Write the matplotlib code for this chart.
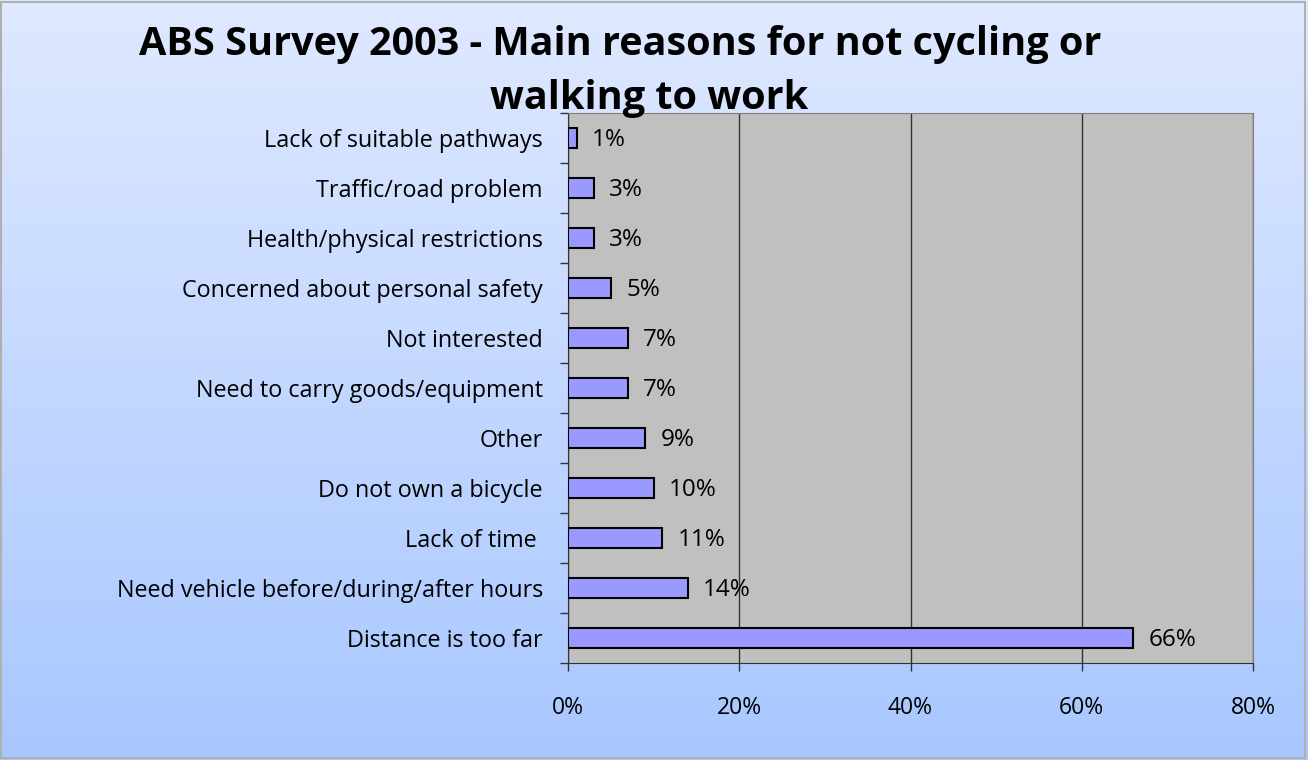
import matplotlib
matplotlib.use("Agg")
import matplotlib.pyplot as plt
import numpy as np
from matplotlib.ticker import FixedLocator

categories = ["Distance is too far", "Need vehicle before/during/after hours", "Lack of time ",
              "Do not own a bicycle", "Other", "Need to carry goods/equipment", "Not interested",
              "Concerned about personal safety", "Health/physical restrictions",
              "Traffic/road problem", "Lack of suitable pathways"]
values = [66, 14, 11, 10, 9, 7, 7, 5, 3, 3, 1]
x_ticks = [0, 20, 40, 60, 80]
x_tick_labels = ["0%", "20%", "40%", "60%", "80%"]
title_line1 = "ABS Survey 2003 - Main reasons for not cycling or"
title_line2 = "walking to work"

plt.rcParams['font.family'] = ['Open Sans', 'DejaVu Sans']

W, H = 1308, 760
fig = plt.figure(figsize=(W / 100, H / 100), dpi=100)

# gradient background
bg = fig.add_axes([0, 0, 1, 1], zorder=-10)
top = np.array([0.875, 0.914, 1.0])
bot = np.array([0.66, 0.78, 1.0])
t = np.linspace(0, 1, 256)[:, None]
grad = top[None, :] * (1 - t) + bot[None, :] * t
bg.imshow(grad[:, None, :].repeat(2, axis=1), aspect='auto', extent=[0, 1, 0, 1])
bg.set_xlim(0, 1); bg.set_ylim(0, 1)
bg.axis('off')
bg.add_patch(plt.Rectangle((0.001, 0.002), 0.997, 0.996, fill=False, ec='#b0b0b0', lw=1.5))

ax = fig.add_axes([568 / W, 1 - 663 / H, (1253 - 568) / W, (663 - 113) / H])
ax.set_facecolor('#c0c0c0')
y = np.arange(len(categories))
ax.barh(y, values, height=0.4, color='#9999ff', edgecolor='black', linewidth=1.5, zorder=3)
for yi, v in zip(y, values):
    ax.annotate(f"{v}%", (v, yi), xytext=(11, -1.5), textcoords='offset points',
                va='center', ha='left', fontsize=17.5, zorder=4)

ax.set_xlim(0, 80)
ax.set_ylim(-0.5, len(categories) - 0.5)
ax.set_xticks(x_ticks)
ax.set_xticklabels(x_tick_labels, fontsize=16.5)
ax.set_yticks(y)
ax.set_yticklabels(categories, fontsize=16.8)
ax.yaxis.set_minor_locator(FixedLocator(np.arange(-0.5, len(categories), 1)))
ax.tick_params(axis='y', which='major', length=0, pad=18)
ax.tick_params(axis='y', which='minor', length=6, width=1, color='#333333')
ax.tick_params(axis='x', length=6, width=1, color='#333333', pad=18)
ax.xaxis.grid(True, color='#333333', linewidth=1, zorder=1)
ax.set_axisbelow(True)
for s in ['left', 'bottom']:
    ax.spines[s].set_color('#333333')
for s in ['top', 'right']:
    ax.spines[s].set_color('#808080')

fig.text(620 / W, 1 - 45 / H, title_line1, ha='center', va='center', fontsize=28.5,
         fontweight='bold')
fig.text(649 / W, 1 - 98 / H, title_line2, ha='center', va='center', fontsize=28.5,
         fontweight='bold', zorder=5)

fig.savefig("out.png", dpi=100)
